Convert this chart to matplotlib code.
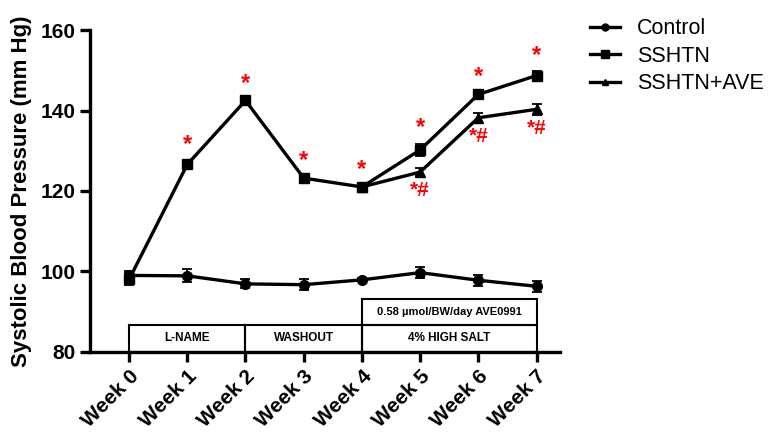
import matplotlib.pyplot as plt
from matplotlib.lines import Line2D
import numpy as np

plt.rcParams['font.family'] = ['Liberation Sans', 'DejaVu Sans']

weeks = ['Week 0', 'Week 1', 'Week 2', 'Week 3', 'Week 4', 'Week 5', 'Week 6', 'Week 7']

control = [99.0, 98.9, 96.9, 96.7, 97.9, 99.7, 97.8, 96.3]
control_err = [1.2, 1.6, 1.1, 1.4, 0.4, 1.3, 1.4, 1.4]

sshtn = [98.0, 126.6, 142.5, 123.2, 121.0, 130.2, 144.0, 148.7]
sshtn_err = [1.5, 1.2, 0.4, 0.4, 0.5, 1.6, 0.5, 1.1]

ave_weeks = [4, 5, 6, 7]
sshtn_ave = [121.0, 124.7, 138.2, 140.3]
sshtn_ave_err = [0.5, 1.1, 1.3, 1.3]

x = np.arange(len(weeks))

fig = plt.figure(figsize=(7.7, 4.36), dpi=100)
ax = fig.add_axes([0.117, 0.193, 0.61, 0.738])

kw = dict(color='black', lw=2.4, capsize=3.5, elinewidth=1.3, capthick=1.3)
ax.errorbar(x, control, yerr=control_err, marker='o', ms=7, **kw)
ax.errorbar(x, sshtn, yerr=sshtn_err, marker='s', ms=7.5, **kw)
ax.errorbar(ave_weeks, sshtn_ave, yerr=sshtn_ave_err, marker='^', ms=7, **kw)

# significance marks
for i in range(1, 8):
    ax.text(x[i], sshtn[i] + sshtn_err[i] + 1.0, '*', color='red', fontsize=17,
            fontweight='bold', ha='center', va='bottom')
for w, v, e in zip(ave_weeks[1:], sshtn_ave[1:], sshtn_ave_err[1:]):
    ax.text(w, v - e - 1.0, '*#', color='red', fontsize=15,
            fontweight='bold', ha='center', va='top')

# treatment period boxes
periods = [(0, 2, 'L-NAME'), (2, 4, 'WASHOUT'), (4, 7, '4% HIGH SALT')]
for a, b, name in periods:
    ax.add_patch(plt.Rectangle((a, 80), b - a, 6.7, fill=False, lw=1.5,
                               edgecolor='black', clip_on=False))
    ax.text((a + b) / 2, 83.35, name, ha='center', va='center', fontsize=8.5,
            fontweight='bold')
ax.add_patch(plt.Rectangle((4, 86.7), 3, 6.4, fill=False, lw=1.5,
                           edgecolor='black', clip_on=False))
ax.text(5.5, 89.9, '0.58 \u00b5mol/BW/day AVE0991', ha='center', va='center',
        fontsize=8, fontweight='bold')

ax.set_xlim(-0.67, 7.4)
ax.set_ylim(80, 160)
ax.set_yticks([80, 100, 120, 140, 160])
ax.set_xticks(x)
ax.set_xticklabels(weeks, rotation=45, ha='right', rotation_mode='anchor',
                   fontsize=15, fontweight='bold')
for lab in ax.get_yticklabels():
    lab.set_fontweight('bold')
    lab.set_fontsize(15)
ax.set_ylabel('Systolic Blood Pressure (mm Hg)', fontsize=16, fontweight='bold',
              labelpad=6)

ax.spines['top'].set_visible(False)
ax.spines['right'].set_visible(False)
ax.spines['left'].set_linewidth(2.4)
ax.spines['bottom'].set_linewidth(2.4)
ax.tick_params(width=2.4, length=7)

handles = [
    Line2D([], [], color='black', lw=2.4, marker='o', ms=5),
    Line2D([], [], color='black', lw=2.4, marker='s', ms=5.5),
    Line2D([], [], color='black', lw=2.4, marker='^', ms=5),
]
fig.legend(handles, ['Control', 'SSHTN', 'SSHTN+AVE'], loc='upper left',
           bbox_to_anchor=(0.755, 0.978), borderaxespad=0, frameon=False,
           fontsize=15.5, handlelength=1.4, handletextpad=0.8, labelspacing=0.3)

fig.savefig('out.png', dpi=100)
